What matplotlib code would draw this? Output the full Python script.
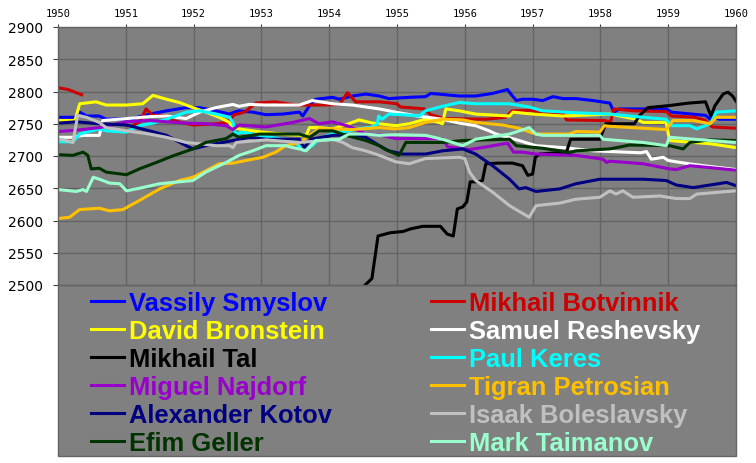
import numpy as np
import matplotlib
matplotlib.use('Agg')
import matplotlib.pyplot as plt
from matplotlib.patches import Rectangle

nan = np.nan

# rating histories (year, elo)
smyslov_years = [1950.00, 1950.25, 1950.32, 1950.42, 1950.61, 1950.71, 1951.10, 1951.35, 1951.60, 1951.89,
                 1952.09, 1952.33, 1952.53, 1952.60, 1952.67, 1952.87, 1953.07, 1953.31, 1953.56, 1953.61,
                 1953.71, 1953.80, 1954.05, 1954.15, 1954.34, 1954.54, 1954.74, 1954.88, 1955.18, 1955.42,
                 1955.50, 1955.92, 1956.16, 1956.41, 1956.63, 1956.68, 1956.76, 1956.85, 1957.00, 1957.15,
                 1957.30, 1957.45, 1957.64, 1957.89, 1958.14, 1958.20, 1958.28, 1958.97, 1959.05, 1959.55,
                 1959.62, 1959.66, 1959.76, 1960.00]
smyslov_elo = [2760, 2760, 2768, 2762, 2762, 2757, 2758, 2765, 2770, 2775,
               2775, 2770, 2765, 2768, 2770, 2768, 2764, 2765, 2768, 2762,
               2778, 2788, 2791, 2788, 2793, 2796, 2793, 2789, 2791, 2792,
               2797, 2793, 2793, 2797, 2803, 2796, 2786, 2788, 2788, 2786,
               2792, 2789, 2789, 2786, 2782, 2768, 2773, 2773, 2768, 2763,
               2757, 2760, 2757, 2757]

botvinnik_years = [1950.00, 1950.15, 1950.35, nan,
                   1951.10, 1951.20, 1951.30, 1951.40, 1951.55, 1951.70, 1951.99,
                   1952.33, 1952.50, 1952.60, 1952.75, 1952.92,
                   1953.20, 1953.50, 1953.90,
                   1954.15, 1954.27, 1954.39, 1954.74,
                   1955.00, 1955.05, 1955.40, 1955.50, 1955.70,
                   1956.30, 1956.60, 1956.70,
                   1957.00, 1957.10, 1957.45, 1957.50,
                   1958.05, 1958.15, 1958.20, 1958.50, 1958.97,
                   1959.05, 1959.40, 1959.55, 1959.65, 1960.00]
botvinnik_elo = [2806, 2803, 2795, nan,
                 2747, 2752, 2773, 2763, 2763, 2755, 2748,
                 2750, 2752, 2764, 2768, 2782,
                 2784, 2779, 2779,
                 2780, 2798, 2784, 2784,
                 2781, 2776, 2773, 2764, 2758,
                 2757, 2760, 2770,
                 2771, 2766, 2766, 2756,
                 2755, 2753, 2773, 2770, 2769,
                 2762, 2760, 2755, 2745, 2743]

bronstein_years = [1950.00, 1950.25, 1950.32, 1950.56, 1950.71, 1951.01, 1951.25, 1951.40, 1951.60, 1951.79,
                   1951.99, 1952.18, 1952.38, 1952.53, 1952.58, 1952.67, 1952.87, 1953.02, 1953.40, 1953.66,
                   1953.71, 1953.85, 1954.05, 1954.20, 1954.34, 1954.44, 1954.64, 1954.74, 1954.98, 1955.18,
                   1955.42, 1955.62, 1955.67, 1955.72, 1955.92, 1956.16, 1956.66, 1956.71, 1957.00, 1957.45,
                   1958.14, 1958.53, 1958.63, 1958.97, 1959.02, 1959.37, 1959.62, 1960.00]
bronstein_elo = [2755, 2755, 2781, 2784, 2779, 2779, 2781, 2794, 2788, 2783,
                 2775, 2768, 2760, 2752, 2744, 2742, 2739, 2737, 2733, 2732,
                 2744, 2744, 2742, 2747, 2752, 2756, 2751, 2750, 2747, 2750,
                 2757, 2752, 2750, 2773, 2770, 2765, 2762, 2768, 2765, 2762,
                 2765, 2757, 2752, 2752, 2724, 2721, 2719, 2713]

reshevsky_years = [1950.00, 1950.22, 1950.37, 1950.61, 1950.66, 1951.01, 1951.35, 1951.60, 1951.89, 1952.09,
                   1952.33, 1952.58, 1952.67, 1952.82, 1953.07, 1953.56, 1953.75, 1954.05, 1954.34, 1954.74,
                   1954.98, 1955.30, 1955.67, 1955.92, 1956.16, 1956.36, 1956.46, 1956.70, 1956.80, 1957.05,
                   1957.45, 1957.90, 1958.60, 1958.68, 1958.75, 1958.93, 1959.00, 1959.30, 1959.60, 1960.00]
reshevsky_elo = [2729, 2729, 2732, 2732, 2755, 2758, 2761, 2762, 2758, 2768,
                 2775, 2780, 2777, 2780, 2779, 2779, 2786, 2781, 2779, 2773,
                 2768, 2762, 2757, 2751, 2747, 2739, 2734, 2727, 2724, 2716,
                 2713, 2708, 2705, 2707, 2695, 2698, 2693, 2688, 2684, 2679]

tal_years = [1954.50, 1954.58, 1954.63, 1954.72, 1954.90, 1955.09, 1955.20, 1955.38, 1955.64, 1955.74,
             1955.83, 1955.89, 1955.97, 1956.03, 1956.08, 1956.20, 1956.26, 1956.31, 1956.50, 1956.70,
             1956.85, 1956.93, 1957.00, 1957.04, 1957.10, 1957.50, 1957.56, 1957.99, 1958.08, 1958.50,
             1958.58, 1958.70, 1959.00, 1959.30, 1959.55, 1959.63, 1959.69, 1959.81, 1959.88, 1959.95,
             1960.00]
tal_elo = [2497, 2505, 2510, 2576, 2581, 2583, 2587, 2591, 2591, 2579,
           2576, 2618, 2621, 2629, 2660, 2660, 2662, 2688, 2689, 2689,
           2685, 2670, 2672, 2698, 2703, 2706, 2726, 2726, 2750, 2750,
           2763, 2775, 2778, 2782, 2784, 2762, 2778, 2796, 2799, 2793,
           2785]

keres_years = [1950.00, 1950.22, 1950.32, 1950.42, 1950.61, 1950.71, 1951.01, 1951.20, 1951.40, 1951.60,
               1951.89, 1952.09, 1952.33, 1952.53, 1952.58, 1952.62, 1952.72, 1952.97, 1953.31, 1953.46,
               1953.63, 1953.75, 1953.85, 1954.05, 1954.44, 1954.64, 1954.71, 1954.73, 1954.78, 1954.88,
               1955.08, 1955.33, 1955.42, 1955.67, 1955.92, 1956.16, 1956.66, 1956.95, 1957.15, 1957.64,
               1958.14, 1958.63, 1958.97, 1959.05, 1959.32, 1959.42, 1959.62, 1959.71, 1960.00]
keres_elo = [2722, 2722, 2734, 2737, 2742, 2739, 2737, 2747, 2751, 2757,
             2768, 2770, 2765, 2760, 2752, 2734, 2737, 2732, 2726, 2725,
             2708, 2716, 2726, 2735, 2742, 2745, 2750, 2762, 2757, 2765,
             2764, 2762, 2770, 2777, 2783, 2781, 2781, 2776, 2770, 2767,
             2765, 2760, 2757, 2747, 2747, 2742, 2750, 2768, 2770]

najdorf_years = [1950.00, 1950.27, 1950.61, 1951.01, 1951.35, 1951.60, 1951.89, 1952.18, 1952.48, 1952.58,
                 1952.67, 1953.07, 1953.46, 1953.71, 1953.85, 1954.05, 1954.29, 1954.54, 1954.74, 1954.98,
                 1955.67, 1955.75, 1956.07, 1956.31, 1956.63, 1956.72, 1956.85, 1957.05, 1957.64, 1958.04,
                 1958.09, 1958.14, 1958.63, 1959.02, 1959.12, 1959.32, 1959.62, 1960.00]
najdorf_elo = [2738, 2740, 2744, 2753, 2755, 2753, 2751, 2750, 2747, 2741,
               2748, 2745, 2752, 2758, 2750, 2753, 2746, 2734, 2733, 2727,
               2727, 2714, 2710, 2714, 2720, 2706, 2706, 2703, 2701, 2695,
               2690, 2692, 2688, 2680, 2679, 2685, 2682, 2678]

petrosian_years = [1950.00, 1950.17, 1950.32, 1950.61, 1950.76, 1950.96, 1951.01, 1951.20, 1951.50, 1951.79,
                   1951.99, 1952.18, 1952.38, 1952.58, 1952.77, 1953.02, 1953.21, 1953.36, 1953.56, 1953.71,
                   1953.85, 1954.05, 1954.34, 1954.74, 1954.98, 1955.18, 1955.42, 1955.67, 1955.97, 1956.16,
                   1956.56, 1956.80, 1957.05, 1957.54, 1957.64, 1957.99, 1958.06, 1958.14, 1958.97, 1959.07,
                   1959.37, 1959.62, 1959.71, 1960.00]
petrosian_elo = [2603, 2605, 2617, 2619, 2615, 2617, 2620, 2631, 2649, 2662,
                 2667, 2677, 2688, 2689, 2693, 2698, 2706, 2716, 2721, 2732,
                 2742, 2742, 2741, 2744, 2742, 2744, 2752, 2757, 2756, 2752,
                 2748, 2743, 2734, 2734, 2738, 2737, 2747, 2746, 2741, 2755,
                 2755, 2750, 2760, 2760]

kotov_years = [1950.00, 1950.27, 1950.61, 1951.01, 1951.35, 1951.60, 1951.89, 1951.99, 1952.18, 1952.58,
               1952.82, 1953.07, 1953.56, 1953.63, 1953.73, 1954.05, 1954.34, 1954.54, 1954.74, 1954.88,
               1955.08, 1955.42, 1955.67, 1955.97, 1956.16, 1956.41, 1956.66, 1956.80, 1956.90, 1957.05,
               1957.40, 1957.64, 1957.99, 1958.63, 1958.97, 1959.12, 1959.37, 1959.86, 1960.00]
kotov_elo = [2751, 2753, 2750, 2748, 2739, 2732, 2716, 2711, 2716, 2724,
             2729, 2726, 2726, 2713, 2726, 2732, 2733, 2729, 2716, 2708,
             2703, 2703, 2708, 2711, 2703, 2685, 2664, 2649, 2651, 2645,
             2649, 2657, 2664, 2664, 2662, 2655, 2651, 2659, 2654]

boleslavsky_years = [1950.00, 1950.22, 1950.29, 1950.42, 1950.61, 1950.71, 1951.01, 1951.35, 1951.60, 1951.89,
                     1952.09, 1952.33, 1952.53, 1952.58, 1952.63, 1953.07, 1953.56, 1953.80, 1954.05, 1954.20,
                     1954.34, 1954.54, 1954.74, 1954.98, 1955.18, 1955.42, 1955.92, 1956.00, 1956.07, 1956.16,
                     1956.41, 1956.66, 1956.95, 1957.05, 1957.40, 1957.64, 1957.99, 1958.14, 1958.23, 1958.33,
                     1958.48, 1958.88, 1959.12, 1959.32, 1959.42, 1960.00]
boleslavsky_elo = [2727, 2721, 2763, 2760, 2752, 2744, 2739, 2734, 2729, 2721,
                   2719, 2716, 2716, 2713, 2721, 2725, 2721, 2723, 2726, 2721,
                   2713, 2708, 2701, 2691, 2688, 2696, 2698, 2696, 2675, 2662,
                   2644, 2623, 2605, 2623, 2627, 2633, 2636, 2646, 2641, 2646,
                   2636, 2638, 2634, 2634, 2641, 2646]

geller_years = [1950.00, 1950.22, 1950.37, 1950.44, 1950.49, 1950.61, 1950.71, 1951.01, 1951.20, 1951.45,
                1951.69, 1951.99, 1952.18, 1952.48, 1952.58, 1952.67, 1952.97, 1953.56, 1953.71, 1953.85,
                1954.05, 1954.25, 1954.54, 1954.74, 1954.83, 1955.03, 1955.13, 1955.67, 1955.97, 1956.66,
                1956.76, 1957.15, 1957.40, 1957.54, 1957.64, 1958.14, 1958.43, 1959.02, 1959.22, 1959.32,
                1959.62, 1960.00]
geller_elo = [2702, 2701, 2706, 2701, 2680, 2681, 2675, 2671, 2680, 2690,
              2700, 2711, 2721, 2727, 2734, 2729, 2734, 2734, 2729, 2739,
              2739, 2732, 2724, 2716, 2710, 2701, 2721, 2721, 2724, 2726,
              2716, 2712, 2708, 2705, 2708, 2711, 2717, 2716, 2711, 2721,
              2725, 2724]

taimanov_years = [1950.00, 1950.27, 1950.37, 1950.42, 1950.52, 1950.61, 1950.76, 1950.91, 1951.01, 1951.20,
                  1951.50, 1951.99, 1952.18, 1952.48, 1952.67, 1952.87, 1953.07, 1953.36, 1953.46, 1953.56,
                  1953.66, 1953.80, 1954.15, 1954.29, 1954.54, 1954.74, 1954.98, 1955.42, 1955.67, 1955.97,
                  1956.16, 1956.66, 1956.95, 1957.05, 1957.15, 1957.99, 1958.04, 1958.63, 1958.97, 1959.02,
                  1959.62, 1960.00]
taimanov_elo = [2648, 2645, 2648, 2645, 2667, 2664, 2658, 2657, 2646, 2650,
                2657, 2662, 2675, 2690, 2701, 2708, 2716, 2716, 2713, 2711,
                2708, 2724, 2726, 2734, 2734, 2732, 2733, 2732, 2726, 2716,
                2726, 2734, 2744, 2734, 2732, 2732, 2726, 2721, 2716, 2729,
                2724, 2721]

players = ['Vassily Smyslov', 'Mikhail Botvinnik', 'David Bronstein', 'Samuel Reshevsky',
           'Mikhail Tal', 'Paul Keres', 'Miguel Najdorf', 'Tigran Petrosian',
           'Alexander Kotov', 'Isaak Boleslavsky', 'Efim Geller', 'Mark Taimanov']
series = [(smyslov_years, smyslov_elo), (botvinnik_years, botvinnik_elo),
          (bronstein_years, bronstein_elo), (reshevsky_years, reshevsky_elo),
          (tal_years, tal_elo), (keres_years, keres_elo),
          (najdorf_years, najdorf_elo), (petrosian_years, petrosian_elo),
          (kotov_years, kotov_elo), (boleslavsky_years, boleslavsky_elo),
          (geller_years, geller_elo), (taimanov_years, taimanov_elo)]
colors = ['#0000FF', '#CC0000', '#FFFF00', '#FFFFFF', '#000000', '#00FFFF',
          '#9900CC', '#FFC000', '#000080', '#C0C0C0', '#003300', '#99FFCC']

year_ticks = list(range(1950, 1961))
elo_ticks = list(range(2500, 2901, 50))

W, H = 756, 464
fig = plt.figure(figsize=(W / 100, H / 100), dpi=100)
fig.patch.set_facecolor('white')

BG = '#808080'
GRID = '#646464'

# gray panel holding the legend, under the plot
fig.add_artist(Rectangle((58 / W, 1 - 457 / H), 678 / W, (457 - 286) / H,
                         transform=fig.transFigure, facecolor=BG, edgecolor=GRID, lw=1.0, zorder=0))

ax = fig.add_axes([58 / W, 1 - 286 / H, 678 / W, (286 - 28) / H])
ax.set_facecolor(BG)

handles = []
for name, (xs, ys), c in zip(players, series, colors):
    ln, = ax.plot(xs, ys, color=c, lw=2.2, solid_joinstyle='round', label=name)
    handles.append(ln)

ax.set_xlim(1950, 1960)
ax.set_ylim(2500, 2900)
ax.set_xticks(year_ticks)
ax.set_yticks(elo_ticks)
ax.grid(True, color=GRID, lw=1.0)
ax.set_axisbelow(True)
for s in ax.spines.values():
    s.set_color(GRID)
    s.set_linewidth(1.0)

ax.xaxis.tick_top()
ax.tick_params(axis='x', length=2, pad=4.3, color='#404040', labelsize=7.5)
for lab in ax.get_xticklabels():
    lab.set_family('DejaVu Sans Mono')
ax.tick_params(axis='y', length=3.6, pad=7.2, color='#404040', labelsize=10)

# legend: two columns, each its own legend box
order_left = [0, 2, 4, 6, 8, 10]
order_right = [1, 3, 5, 7, 9, 11]
leg_kw = dict(loc='upper left', frameon=False, borderpad=0, borderaxespad=0,
              handlelength=1.29, handletextpad=0.18, labelspacing=0.155,
              prop={'family': 'Liberation Sans', 'weight': 'bold', 'size': 18.4},
              labelcolor='linecolor', bbox_transform=fig.transFigure)
leg1 = ax.legend([handles[i] for i in order_left], [players[i] for i in order_left],
                 bbox_to_anchor=(91 / W, 1 - 292 / H), **leg_kw)
ax.add_artist(leg1)
leg2 = ax.legend([handles[i] for i in order_right], [players[i] for i in order_right],
                 bbox_to_anchor=(431 / W, 1 - 292 / H), **leg_kw)

fig.savefig('out.png', dpi=100)
